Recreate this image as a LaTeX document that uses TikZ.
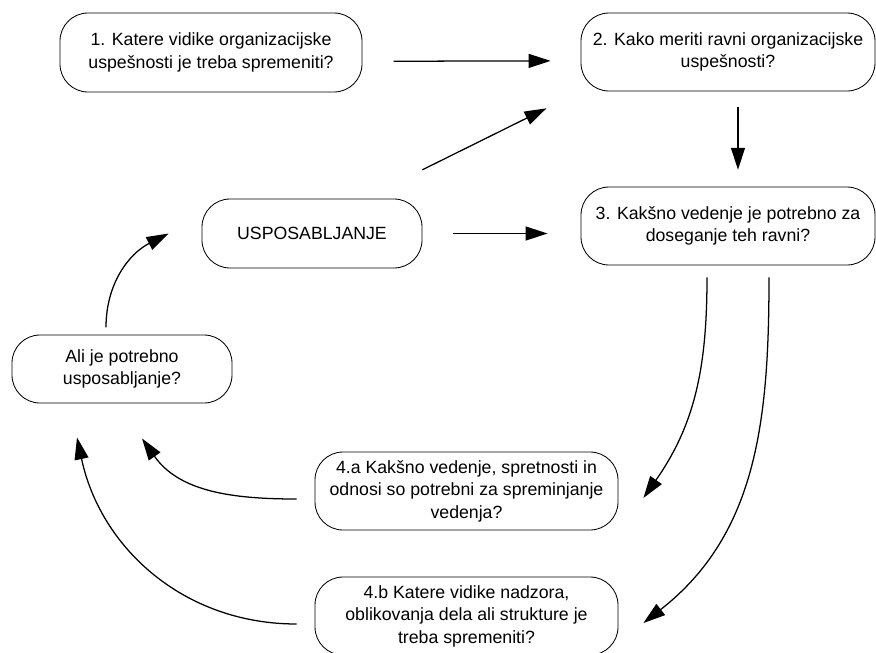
\documentclass[tikz,border=0pt]{standalone}
\usepackage{fontspec}
\setmainfont{Liberation Sans}
\usepackage{xcolor}
\usepackage{tikz}
\usetikzlibrary{arrows.meta,positioning,calc}

\begin{document}
\begin{tikzpicture}[
    question/.style={rectangle, draw, rounded corners=0.7cm, line width=0.6pt, align=center, inner sep=2pt, minimum height=1.95cm, font=\fontsize{12.6}{16}\selectfont},
    flow/.style={-{Triangle[length=0.55cm,width=0.35cm]}, line width=0.9pt}
]
    % Page frame
    \useasboundingbox (0,0) rectangle (21.9,-16.3);

    % Questions
    \node[question, minimum width=7.55cm, minimum height=1.975cm] (q1) at (5.275,-1.3125) {1. Katere vidike organizacijske\\uspešnosti je treba spremeniti?};
    \node[question, minimum width=7.35cm] (q2) at (18.2,-1.3) {2. Kako meriti ravni organizacijske\\uspešnosti?};
    \node[question, minimum width=7.35cm] (q3) at (18.2,-5.65) {3. Kakšno vedenje je potrebno za\\doseganje teh ravni?};
    \node[question, minimum width=5.5cm, minimum height=1.725cm] (train) at (7.8,-5.8375) {USPOSABLJANJE};
    \node[question, minimum width=5.5cm, minimum height=1.7cm] (need) at (3.05,-9.225) {Ali je potrebno\\usposabljanje?};
    \node[question, minimum width=7.575cm] (q4a) at (11.6625,-12.275) {4.a Kakšno vedenje, spretnosti in\\odnosi so potrebni za spreminjanje\\vedenja?};
    \node[question, minimum width=7.575cm] (q4b) at (11.6625,-15.4) {4.b Katere vidike nadzora,\\oblikovanja dela ali strukture je\\treba spremeniti?};

    % Connections
    \draw[flow, shorten <=0.78cm, shorten >=0.75cm] ([yshift=-0.22cm]q1.east) -- ([yshift=-0.22cm]q2.west);
    \draw[flow, shorten >=0.95cm] ([yshift=0.72cm]train.north east) -- (q2.south west);
    \draw[flow, shorten <=0.4cm, shorten >=0.42cm] ([xshift=0.25cm]q2.south) -- ([xshift=0.25cm]q3.north);
    \draw[flow, shorten <=0.775cm, shorten >=0.825cm] (train.east) -- (train.east -| q3.west);
    \draw[flow] ([xshift=-0.4cm,yshift=0.18cm]need.north) to[out=90, in=-153] ([xshift=-0.825cm]train.west);

    % Feedback loops
    \draw[flow] ([xshift=-0.525cm,yshift=-0.3cm]q3.south) to[out=-90, in=55] ([xshift=0.625cm,yshift=-0.175cm]q4a.east);
    \draw[flow] ([xshift=1.025cm,yshift=-0.3cm]q3.south) to[out=-90, in=38] ([xshift=0.625cm,yshift=-0.175cm]q4b.east);
    \draw[flow] ([xshift=-0.45cm,yshift=-0.2cm]q4a.west) to[out=180, in=-55] ([xshift=0.5cm,yshift=-0.875cm]need.south);
    \draw[flow] ([xshift=-0.45cm,yshift=-0.2cm]q4b.west) to[out=180, in=-78] ([xshift=-1.125cm,yshift=-0.85cm]need.south);
\end{tikzpicture}
\end{document}
